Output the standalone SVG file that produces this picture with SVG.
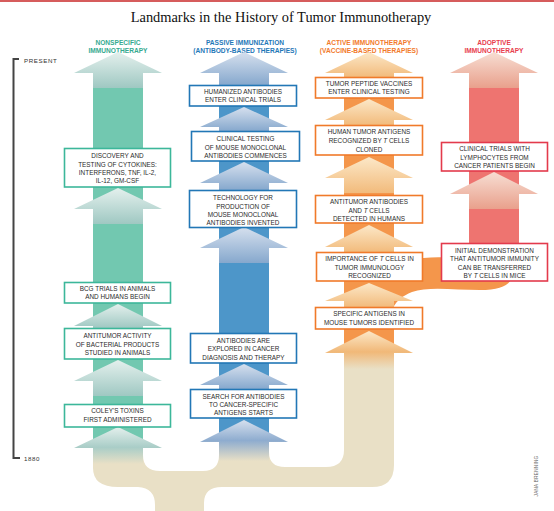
<svg xmlns="http://www.w3.org/2000/svg" width="554" height="511" viewBox="0 0 554 511">
<defs>
<linearGradient id="gT" x1="0" y1="0" x2="0" y2="1"><stop offset="0" stop-color="#e4f0ed"/><stop offset="1" stop-color="#9fc8c2"/></linearGradient>
<linearGradient id="gB" x1="0" y1="0" x2="0" y2="1"><stop offset="0" stop-color="#d6e0ee"/><stop offset="1" stop-color="#86a8cd"/></linearGradient>
<linearGradient id="gO" x1="0" y1="0" x2="0" y2="1"><stop offset="0" stop-color="#fce8c8"/><stop offset="1" stop-color="#f2bb7c"/></linearGradient>
<linearGradient id="gR" x1="0" y1="0" x2="0" y2="1"><stop offset="0" stop-color="#f7ded3"/><stop offset="1" stop-color="#e9a08c"/></linearGradient>
<linearGradient id="gTe" x1="0" y1="0" x2="0" y2="1"><stop offset="0" stop-color="#e4f0ed"/><stop offset="0.55" stop-color="#a9cdc7"/><stop offset="1" stop-color="#e9e0c6"/></linearGradient>
<linearGradient id="gBe" x1="0" y1="0" x2="0" y2="1"><stop offset="0" stop-color="#d6e0ee"/><stop offset="0.5" stop-color="#8eaccf"/><stop offset="1" stop-color="#e9e0c6"/></linearGradient>
<linearGradient id="gOe" x1="0" y1="0" x2="0" y2="1"><stop offset="0" stop-color="#fce8c8"/><stop offset="0.55" stop-color="#f1b878"/><stop offset="1" stop-color="#e9e0c6"/></linearGradient>
<style>
.title{font-family:"Liberation Serif","Times New Roman",serif;font-size:14.4px;fill:#111;}
.hd{font-family:"Liberation Sans",Arial,sans-serif;font-size:6.6px;font-weight:bold;text-anchor:middle;}
.tx{font-family:"Liberation Sans",Arial,sans-serif;font-size:6.4px;fill:#2a2a2a;text-anchor:middle;}
.tl{font-family:"Liberation Sans",Arial,sans-serif;font-size:6.2px;fill:#333;letter-spacing:0.6px;}
.bx{fill:#fff;stroke-width:1.6;}
.bT{stroke:#3cb79a;} .bB{stroke:#2277b6;} .bO{stroke:#f07a2a;} .bR{stroke:#e33a4c;}
.it{font-style:italic;}
</style>
</defs>
<rect width="554" height="511" fill="#fff"/>
<line x1="0" y1="1" x2="554" y2="1" stroke="#d65c5c" stroke-width="2"/>
<text class="title" x="281" y="22" text-anchor="middle">Landmarks in the History of Tumor Immunotherapy</text>

<g id="headers">
<text class="hd" fill="#36aa90" x="118" y="44.5">NONSPECIFIC</text>
<text class="hd" fill="#36aa90" x="118" y="53">IMMUNOTHERAPY</text>
<text class="hd" fill="#1f78b8" x="245" y="44.5">PASSIVE IMMUNIZATION</text>
<text class="hd" fill="#1f78b8" x="245" y="53">(ANTIBODY-BASED THERAPIES)</text>
<text class="hd" fill="#f27a2c" x="369" y="44.5">ACTIVE IMMUNOTHERAPY</text>
<text class="hd" fill="#f27a2c" x="369" y="53">(VACCINE-BASED THERAPIES)</text>
<text class="hd" fill="#e8404e" x="494" y="44.5">ADOPTIVE</text>
<text class="hd" fill="#e8404e" x="494" y="53">IMMUNOTHERAPY</text>
</g>

<g id="timeline">
<path d="M19 59 L13.5 59 L13.5 458 L20 458" fill="none" stroke="#444" stroke-width="2"/>
<text class="tl" x="24" y="63">PRESENT</text>
<text class="tl" x="24" y="460.5">1880</text>
</g>

<g id="connectors">
<path d="M93 440 L93 468 Q93 487 118 487 L138 487 Q155 488 155 505 L155 511 L204 511 L204 503 Q204 487 222 487 L372 487 Q394 487 394 465 L394 360 L344 360 L344 450 Q344 467 326 467 L285 467 Q269 467 269 452 L269 440 L219 440 L219 455 Q219 471 203 471 L160 471 Q143 471 143 455 L143 440 Z" fill="#e9e0c6"/>
<path d="M394 262 C410 258 440 256 470 258 L512 258 L512 277 C510 285 500 290 480 290 C455 290 428 286 412 292 C402 296 397 301 394 306 Z" fill="#f4964b"/>
<rect x="93" y="73" width="50" height="375" fill="#72c8b0"/>
<rect x="219" y="73" width="50" height="369" fill="#4d96c9"/>
<rect x="344" y="73" width="50" height="280" fill="#f4964b"/>
<rect x="469" y="73" width="50" height="170" fill="#ee7470"/>
<!-- teal arrows -->
<polygon fill="url(#gT)" points="118,52 162,73 143,73 143,88 93,88 93,73 74,73"/>
<polygon fill="url(#gT)" points="118,188 162,209 143,209 143,224 93,224 93,209 74,209"/>
<polygon fill="url(#gT)" points="118,304 162,326 143,326 143,328 93,328 93,326 74,326"/>
<polygon fill="url(#gT)" points="118,360 162,381 143,381 143,396 93,396 93,381 74,381"/>
<polygon fill="url(#gTe)" points="118,427 162,448 143,448 143,464 93,464 93,448 74,448"/>
<!-- blue arrows -->
<polygon fill="url(#gB)" points="244,52 288,73 269,73 269,85 219,85 219,73 200,73"/>
<polygon fill="url(#gB)" points="244,107 288,127 269,127 269,131 219,131 219,127 200,127"/>
<polygon fill="url(#gB)" points="244,162 288,183 269,183 269,190 219,190 219,183 200,183"/>
<polygon fill="url(#gB)" points="244,227 288,248 269,248 269,263 219,263 219,248 200,248"/>
<polygon fill="url(#gB)" points="244,364 288,385 269,385 269,389 219,389 219,385 200,385"/>
<polygon fill="url(#gBe)" points="244,420 288,442 269,442 269,461 219,461 219,442 200,442"/>
<!-- orange arrows -->
<polygon fill="url(#gO)" points="369,52 413,73 394,73 394,77 344,77 344,73 325,73"/>
<polygon fill="url(#gO)" points="369,99 413,120 394,120 394,125 344,125 344,120 325,120"/>
<polygon fill="url(#gO)" points="369,157 413,178 394,178 394,193 344,193 344,178 325,178"/>
<polygon fill="url(#gO)" points="369,225 413,247 394,247 394,252 344,252 344,247 325,247"/>
<polygon fill="url(#gO)" points="369,283 413,301 394,301 394,307 344,307 344,301 325,301"/>
<polygon fill="url(#gOe)" points="369,331 413,353 394,353 394,369 344,369 344,353 325,353"/>
<!-- red arrows -->
<polygon fill="url(#gR)" points="494,52 538,73 519,73 519,88 469,88 469,73 450,73"/>
<polygon fill="url(#gR)" points="494,172 538,194 519,194 519,209 469,209 469,194 450,194"/>
</g>

<!-- teal nodes -->
<g id="n-cytokines"><rect class="bx bT" x="64.5" y="148.5" width="106" height="38.5"/>
<text class="tx" x="117.5" y="158.3">DISCOVERY AND</text><text class="tx" x="117.5" y="166.6">TESTING OF CYTOKINES:</text><text class="tx" x="117.5" y="174.9">INTERFERONS, TNF, IL-2,</text><text class="tx" x="117.5" y="183.2">IL-12, GM-CSF</text></g>
<g id="n-bcg"><rect class="bx bT" x="64.5" y="282.5" width="106" height="20.5"/>
<text class="tx" x="117.5" y="290.6">BCG TRIALS IN ANIMALS</text><text class="tx" x="117.5" y="298.6">AND HUMANS BEGIN</text></g>
<g id="n-bacterial"><rect class="bx bT" x="64.5" y="328.5" width="106" height="30.5"/>
<text class="tx" x="117.5" y="338.4">ANTITUMOR ACTIVITY</text><text class="tx" x="117.5" y="346.5">OF BACTERIAL PRODUCTS</text><text class="tx" x="117.5" y="354.6">STUDIED IN ANIMALS</text></g>
<g id="n-coley"><rect class="bx bT" x="64.5" y="404.5" width="106" height="22.5"/>
<text class="tx" x="117.5" y="413.4">COLEY'S TOXINS</text><text class="tx" x="117.5" y="421.5">FIRST ADMINISTERED</text></g>

<!-- blue nodes -->
<g id="n-humanized"><rect class="bx bB" x="189.5" y="85.5" width="107" height="20.5"/>
<text class="tx" x="243" y="94.4">HUMANIZED ANTIBODIES</text><text class="tx" x="243" y="102.4">ENTER CLINICAL TRIALS</text></g>
<g id="n-clinical-mouse"><rect class="bx bB" x="191.5" y="131.5" width="108" height="29.5"/>
<text class="tx" x="245.5" y="141.3">CLINICAL TESTING</text><text class="tx" x="245.5" y="149.5">OF MOUSE MONOCLONAL</text><text class="tx" x="245.5" y="157.7">ANTIBODIES COMMENCES</text></g>
<g id="n-technology"><rect class="bx bB" x="189.5" y="190.5" width="107" height="37"/>
<text class="tx" x="243" y="200.3">TECHNOLOGY FOR</text><text class="tx" x="243" y="208.5">PRODUCTION OF</text><text class="tx" x="243" y="216.7">MOUSE MONOCLONAL</text><text class="tx" x="243" y="224.8">ANTIBODIES INVENTED</text></g>
<g id="n-explored"><rect class="bx bB" x="190.5" y="333.5" width="106" height="29.5"/>
<text class="tx" x="243.5" y="343.3">ANTIBODIES ARE</text><text class="tx" x="243.5" y="351.4">EXPLORED IN CANCER</text><text class="tx" x="243.5" y="359.5">DIAGNOSIS AND THERAPY</text></g>
<g id="n-search"><rect class="bx bB" x="190.5" y="389.5" width="106" height="28.5"/>
<text class="tx" x="243.5" y="399.3">SEARCH FOR ANTIBODIES</text><text class="tx" x="243.5" y="407.3">TO CANCER-SPECIFIC</text><text class="tx" x="243.5" y="415.3">ANTIGENS STARTS</text></g>

<!-- orange nodes -->
<g id="n-peptide"><rect class="bx bO" x="315.5" y="77.5" width="107" height="20.5"/>
<text class="tx" x="369" y="86.3">TUMOR PEPTIDE VACCINES</text><text class="tx" x="369" y="94.3">ENTER CLINICAL TESTING</text></g>
<g id="n-human-antigens"><rect class="bx bO" x="315.5" y="125.5" width="107" height="29.5"/>
<text class="tx" x="369" y="134.4">HUMAN TUMOR ANTIGENS</text><text class="tx" x="369" y="143">RECOGNIZED BY <tspan class="it">T</tspan> CELLS</text><text class="tx" x="369" y="151.5">CLONED</text></g>
<g id="n-antitumor-antibodies"><rect class="bx bO" x="315.5" y="195.5" width="107" height="27.5"/>
<text class="tx" x="369" y="204.3">ANTITUMOR ANTIBODIES</text><text class="tx" x="369" y="212.5">AND <tspan class="it">T</tspan> CELLS</text><text class="tx" x="369" y="220.8">DETECTED IN HUMANS</text></g>
<g id="n-importance"><rect class="bx bO" x="316.5" y="252.5" width="106" height="28.5"/>
<text class="tx" x="369.5" y="261.4">IMPORTANCE OF <tspan class="it">T</tspan> CELLS IN</text><text class="tx" x="369.5" y="269.6">TUMOR IMMUNOLOGY</text><text class="tx" x="369.5" y="277.8">RECOGNIZED</text></g>
<g id="n-specific"><rect class="bx bO" x="315.5" y="307.5" width="107" height="21.5"/>
<text class="tx" x="369" y="316.4">SPECIFIC ANTIGENS IN</text><text class="tx" x="369" y="324.8">MOUSE TUMORS IDENTIFIED</text></g>

<!-- red nodes -->
<g id="n-lymphocytes"><rect class="bx bR" x="441.5" y="142.5" width="106" height="28.5"/>
<text class="tx" x="494.5" y="151.4">CLINICAL TRIALS WITH</text><text class="tx" x="494.5" y="159.7">LYMPHOCYTES FROM</text><text class="tx" x="494.5" y="168">CANCER PATIENTS BEGIN</text></g>
<g id="n-initial"><rect class="bx bR" x="441.5" y="243.5" width="106" height="37.5"/>
<text class="tx" x="494.5" y="253.3">INITIAL DEMONSTRATION</text><text class="tx" x="494.5" y="261.4">THAT ANTITUMOR IMMUNITY</text><text class="tx" x="494.5" y="269.5">CAN BE TRANSFERRED</text><text class="tx" x="494.5" y="277.6">BY <tspan class="it">T</tspan> CELLS IN MICE</text></g>

<text x="537.5" y="476" transform="rotate(-90 537.5 476)" text-anchor="middle" font-family="'Liberation Sans', Arial, sans-serif" font-size="4.6" fill="#666" letter-spacing="0.3">JANA BRENNING</text>
</svg>
